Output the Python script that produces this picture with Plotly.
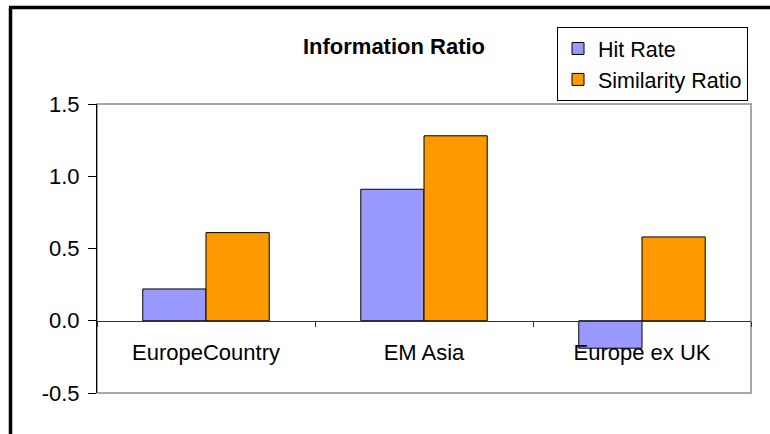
import plotly.graph_objects as go

# Chart data
categories = ["EuropeCountry", "EM Asia", "Europe ex UK"]
hit_rate = [0.22, 0.91, -0.19]
similarity_ratio = [0.61, 1.28, 0.58]
y_ticks = [-0.5, 0.0, 0.5, 1.0, 1.5]
y_tick_labels = [f"{v:.1f}" for v in y_ticks]  # plain hyphen for negatives

FONT = "Liberation Sans, Arial, sans-serif"
FS = 22

# Plot area in pixels (770 x 434 canvas)
L, R, T, B = 97, 770 - 751, 104, 434 - 393
PW, PH = 770 - L - R, 434 - T - B


def px_x(px):
    return (px - L) / PW


def px_y(py):
    return (434 - B - py) / PH


fig = go.Figure()
fig.add_trace(go.Bar(
    x=categories, y=hit_rate, name="Hit Rate",
    marker=dict(color="#9999FF", line=dict(color="black", width=1)),
    legendgroup="a",
))
fig.add_trace(go.Bar(
    x=categories, y=similarity_ratio, name="Similarity Ratio",
    marker=dict(color="#FF9900", line=dict(color="black", width=1)),
    legendgroup="b",
))

y_min, y_max = -0.5, 1.5
zero_pos = (0 - y_min) / (y_max - y_min)

fig.update_layout(
    width=770, height=434,
    margin=dict(l=L, r=R, t=T, b=B, pad=0),
    paper_bgcolor="white", plot_bgcolor="white",
    font=dict(family=FONT, size=FS, color="black"),
    barmode="group", bargap=0.42, bargroupgap=0,
    showlegend=True,
    title=dict(
        text="<b>Information Ratio</b>",
        font=dict(family=FONT, size=22, color="black"),
        x=px_x(394), xref="paper", xanchor="center",
        y=1 - 46 / 434, yref="container", yanchor="middle",
    ),
    legend=dict(
        x=px_x(557), y=px_y(27), xanchor="left", yanchor="top",
        bordercolor="black", borderwidth=1, bgcolor="white",
        font=dict(family=FONT, size=21.5, color="black"),
        tracegroupgap=0, itemwidth=30,
    ),
    xaxis=dict(
        type="category", anchor="free", position=zero_pos,
        showline=True, linecolor="#333333", linewidth=1,
        ticks="outside", ticklen=5, tickcolor="#333333", tickson="boundaries",
        ticklabelstandoff=12,
        showgrid=False, zeroline=False,
        tickfont=dict(family=FONT, size=FS, color="black"),
    ),
    yaxis=dict(
        range=[y_min, y_max], tickvals=y_ticks, ticktext=y_tick_labels,
        showline=True, linecolor="black", linewidth=1,
        ticks="outside", ticklen=8, tickcolor="black",
        ticklabelstandoff=4,
        showgrid=False, zeroline=False,
        tickfont=dict(family=FONT, size=FS, color="black"),
    ),
    shapes=[
        # plot area border
        dict(type="rect", xref="paper", yref="paper", x0=0, x1=1, y0=0, y1=1,
             line=dict(color="#8c8c8c", width=1.5), layer="below"),
        # outer frame (left and top edges)
        dict(type="line", xref="paper", yref="paper",
             x0=px_x(10.5), x1=px_x(10.5), y0=px_y(7.4), y1=px_y(445),
             line=dict(color="black", width=3.5)),
        dict(type="line", xref="paper", yref="paper",
             x0=px_x(9), x1=px_x(780), y0=px_y(7.4), y1=px_y(7.4),
             line=dict(color="black", width=3.5)),
    ],
)

fig.write_html("out.html")
